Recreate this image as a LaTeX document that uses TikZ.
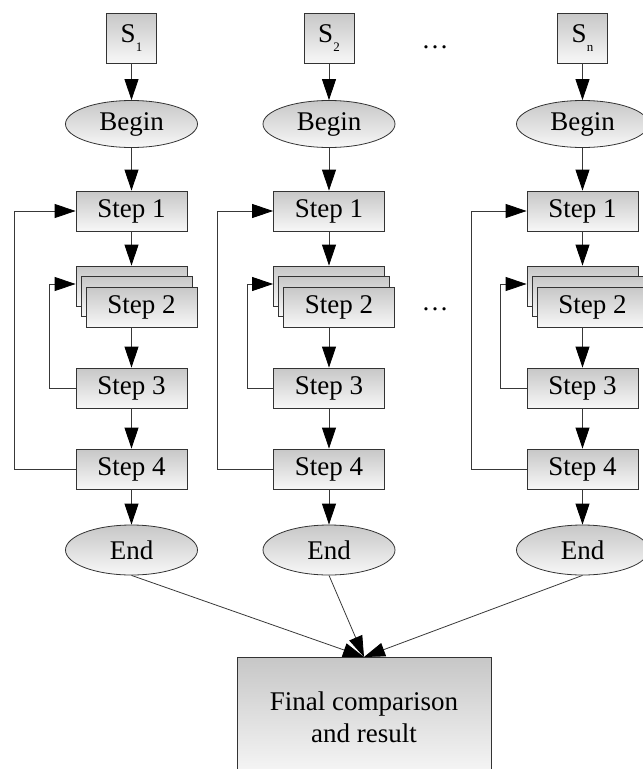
\documentclass[tikz,border=0pt]{standalone}
\usepackage{fontspec}
\setmainfont{Liberation Serif}
\newfontfamily\diagfont{Liberation Serif}
\usetikzlibrary{arrows.meta,shapes.geometric}
\begin{document}
\begin{tikzpicture}[x=1pt,y=-1pt,
  every node/.style={font=\diagfont\fontsize{27}{32}\selectfont},
  shaded/.style={draw=black!80, line width=0.8pt, top color=black!22, bottom color=black!3},
  box/.style={shaded, rectangle, minimum width=111pt, minimum height=40pt, inner sep=0pt},
  sbox/.style={box, minimum width=50pt, minimum height=50pt},
  oval/.style={shaded, ellipse, minimum width=132pt, minimum height=47pt, inner sep=0pt},
  link/.style={draw=black!78, line width=0.8pt,
    -{Triangle[length=21pt,width=14pt,color=black]}},
]
\useasboundingbox (0,0) rectangle (643,769);
\clip (0,0) rectangle (643,769);

% one processing column per input S_k
\foreach \c/\o/\t/\k in {131.5/14/1/1, 329/217/2/2, 582.5/471/n/3} {
  \node[sbox] (s\k) at (\c,38) {S\raisebox{-9pt}{\diagfont\fontsize{13}{13}\selectfont \t}};
  \node[oval] (begin\k) at (\c,124) {Begin};
  \node[box] (one\k) at (\c,211) {Step 1};
  % stacked copies of step 2
  \node[box] (twoa\k) at (\c,286) {};
  \node[box] (twob\k) at (\c+5,296) {};
  \node[box] (two\k) at (\c+10,307) {Step 2};
  \node[box] (three\k) at (\c,388) {Step 3};
  \node[box] (four\k) at (\c,469) {Step 4};
  \node[oval, minimum height=50pt] (end\k) at (\c,550) {End};

  \draw[link] (s\k) -- (begin\k);
  \draw[link] (begin\k) -- (one\k);
  \draw[link] (one\k) -- (twoa\k);
  \draw[link] (two\k.south -| one\k) -- (three\k);
  \draw[link] (three\k) -- (four\k);
  \draw[link] (four\k) -- (end\k);
  % inner loop: step 3 back to step 2
  \draw[link] (three\k.west) -- ++(-26,0) |- ([yshift=2pt]twoa\k.west);
  % outer loop: step 4 back to step 1
  \draw[link] (four\k.west) -- (four\k.west -| \o,0) |- (one\k.west);
}

\node[anchor=base] (dotstop) at (435,48) {\dots};
\node[anchor=base] (dotsmid) at (435,310) {\dots};

\node[shaded, rectangle, minimum width=254pt, minimum height=120pt,
      align=center, anchor=north] (final) at (364,657)
      {Final comparison\\and result};

\foreach \k in {1,2,3}
  \draw[link] (end\k.south) -- (final.north);
\end{tikzpicture}
\end{document}
